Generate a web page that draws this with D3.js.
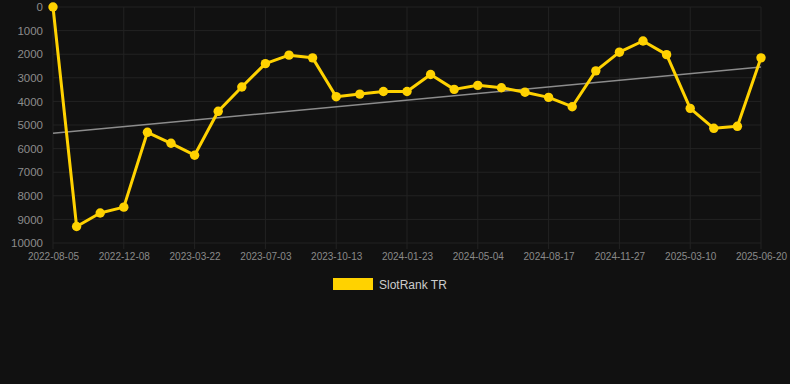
<!DOCTYPE html>
<html>
<head>
<meta charset="utf-8">
<script src="https://d3js.org/d3.v7.min.js"></script>
<style>
  html, body { margin: 0; padding: 0; background: #111111; }
  svg { display: block; }
</style>
</head>
<body>
<div id="chart"></div>
<script>
// dates of each sample (only every third is labelled on the axis)
const dates = [
  "2022-08-05", "d1", "d2", "2022-12-08", "d4", "d5", "2023-03-22", "d7", "d8",
  "2023-07-03", "d10", "d11", "2023-10-13", "d13", "d14", "2024-01-23", "d16", "d17",
  "2024-05-04", "d19", "d20", "2024-08-17", "d22", "d23", "2024-11-27", "d25", "d26",
  "2025-03-10", "d28", "d29", "2025-06-20"
];
const labelledDates = ["2022-08-05", "2022-12-08", "2023-03-22", "2023-07-03", "2023-10-13",
  "2024-01-23", "2024-05-04", "2024-08-17", "2024-11-27", "2025-03-10", "2025-06-20"];
const rankValues = [
  0, 9300, 8730, 8480, 5310, 5775, 6280, 4420, 3390, 2400, 2040,
  2155, 3800, 3690, 3580, 3580, 2860, 3490, 3320, 3420, 3610,
  3830, 4225, 2705, 1915, 1440, 2020, 4295, 5140, 5056, 2155
];
const yTicks = [0, 1000, 2000, 3000, 4000, 5000, 6000, 7000, 8000, 9000, 10000];
const seriesName = "SlotRank TR";

const W = 790, H = 384;
const margin = {l: 53, r: 29, t: 7, b: 141};
const innerW = W - margin.l - margin.r;
const innerH = H - margin.t - margin.b;

const svg = d3.select("#chart").append("svg")
  .attr("width", W).attr("height", H)
  .style("font-family", "Arial, 'Liberation Sans', sans-serif");

svg.append("rect").attr("width", W).attr("height", H).attr("fill", "#111111");

const g = svg.append("g").attr("transform", `translate(${margin.l},${margin.t})`);

const x = d3.scalePoint().domain(d3.range(dates.length)).range([0, innerW]);
const y = d3.scaleLinear().domain([0, 10000]).range([0, innerH]);

// horizontal grid
g.append("g").selectAll("line").data(yTicks).join("line")
  .attr("x1", 0).attr("x2", innerW)
  .attr("y1", d => y(d)).attr("y2", d => y(d))
  .attr("stroke", "#232323").attr("stroke-width", 1);

// vertical grid at labelled dates
const labelIdx = dates.map((d, i) => i).filter(i => labelledDates.includes(dates[i]));
g.append("g").selectAll("line").data(labelIdx).join("line")
  .attr("x1", d => x(d)).attr("x2", d => x(d))
  .attr("y1", 0).attr("y2", innerH + 6)
  .attr("stroke", "#232323").attr("stroke-width", 1);

// y axis
const yAxis = g.append("g")
  .call(d3.axisLeft(y).tickValues(yTicks).tickFormat(d3.format("d")).tickSize(0).tickPadding(10));
yAxis.select(".domain").remove();
yAxis.selectAll("text").attr("fill", "#8c8c8c").style("font-size", "11.5px");

// x axis
const xAxis = g.append("g").attr("transform", `translate(0,${innerH})`)
  .call(d3.axisBottom(x).tickValues(labelIdx).tickFormat(i => dates[i]).tickSize(0).tickPadding(10));
xAxis.select(".domain").remove();
xAxis.selectAll("text").attr("fill", "#8a8a8a").style("font-size", "10px");

// linear trend line (least squares)
const n = rankValues.length;
const xs = d3.range(n);
const mx = d3.mean(xs), my = d3.mean(rankValues);
const slope = d3.sum(xs, i => (i - mx) * (rankValues[i] - my)) / d3.sum(xs, i => (i - mx) ** 2);
const icept = my - slope * mx;
g.append("line")
  .attr("x1", x(0)).attr("y1", y(icept))
  .attr("x2", x(n - 1)).attr("y2", y(icept + slope * (n - 1)))
  .attr("stroke", "#8c8c8c").attr("stroke-width", 1.5);

// series line
const line = d3.line().x((d, i) => x(i)).y(d => y(d));
g.append("path").datum(rankValues)
  .attr("d", line)
  .attr("fill", "none")
  .attr("stroke", "#ffd200")
  .attr("stroke-width", 3)
  .attr("stroke-linejoin", "round");

g.append("g").selectAll("circle").data(rankValues).join("circle")
  .attr("cx", (d, i) => x(i)).attr("cy", d => y(d))
  .attr("r", 4.7).attr("fill", "#ffd200");

// legend
const legend = svg.append("g").attr("transform", "translate(333,278)");
legend.append("rect").attr("width", 40).attr("height", 12).attr("fill", "#ffd200");
legend.append("text").attr("x", 46).attr("y", 10.5)
  .attr("fill", "#cccccc").style("font-size", "12px").text(seriesName);
</script>
</body>
</html>
